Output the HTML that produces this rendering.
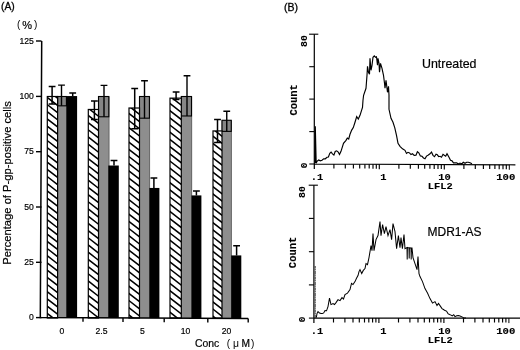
<!DOCTYPE html>
<html><head><meta charset="utf-8"><title>Figure</title>
<style>
html,body{margin:0;padding:0;background:#fff;}
body{width:520px;height:350px;overflow:hidden;}
svg{display:block;filter:grayscale(1);}
text{font-family:"Liberation Sans",sans-serif;fill:#000;}
text.b{stroke:#000;stroke-width:0.18px;}
text.b3{stroke:#000;stroke-width:0.3px;}
text.b2{stroke:#000;stroke-width:0.2px;}
text.m{font-family:"Liberation Mono",monospace;font-weight:bold;fill:#000;stroke:#000;stroke-width:0.12px;}
</style></head><body>
<svg width="520" height="350" viewBox="0 0 520 350">
<defs>
<clipPath id="c0"><rect x="47.3" y="96.5" width="10.300000000000004" height="221.5"/></clipPath>
<clipPath id="c1"><rect x="88.3" y="109.46" width="10.200000000000003" height="208.54000000000002"/></clipPath>
<clipPath id="c2"><rect x="129" y="108.01" width="10.5" height="209.99"/></clipPath>
<clipPath id="c3"><rect x="170" y="98.14" width="11.300000000000011" height="219.86"/></clipPath>
<clipPath id="c4"><rect x="213" y="130.93" width="9" height="187.07"/></clipPath>
</defs>
<rect width="520" height="350" fill="#fff"/>
<text x="1" y="9.7" font-size="10.3" class="b3">(A)</text>
<text x="17" y="28.3" font-size="10">(</text><text x="27.1" y="28.8" font-size="11" text-anchor="middle" class="b">%</text><text x="34" y="28.3" font-size="10">)</text>
<text transform="translate(10.9,182.9) rotate(-90) scale(1.057,1)" text-anchor="middle" font-size="10.6" class="b2">Percentage of P-gp-positive cells</text>
<rect x="57.1" y="96.5" width="9.800000000000004" height="221.5" fill="#8e8e8e"/>
<path d="M66.60000000000001,96.5V318.0" stroke="#555" stroke-width="0.7"/>
<rect x="57.6" y="96.5" width="8.800000000000004" height="9.319999999999993" fill="#868686" stroke="#000" stroke-width="1.1"/>
<path d="M61.5,85.09V105.82M58.1,85.09H64.9" stroke="#000" stroke-width="1.4" fill="none"/>
<rect x="47.3" y="96.5" width="10.300000000000004" height="221.5" fill="#fff"/>
<path d="M46.3,89.42L58.6,99.01M46.3,96.62L58.6,106.21M46.3,103.82L58.6,113.41M46.3,111.02L58.6,120.61M46.3,118.22L58.6,127.81M46.3,125.42L58.6,135.01M46.3,132.62L58.6,142.21M46.3,139.82L58.6,149.41M46.3,147.02L58.6,156.61M46.3,154.22L58.6,163.81M46.3,161.42L58.6,171.01M46.3,168.62L58.6,178.21M46.3,175.82L58.6,185.41M46.3,183.02L58.6,192.61M46.3,190.22L58.6,199.81M46.3,197.42L58.6,207.01M46.3,204.62L58.6,214.21M46.3,211.82L58.6,221.41M46.3,219.02L58.6,228.61M46.3,226.22L58.6,235.81M46.3,233.42L58.6,243.01M46.3,240.62L58.6,250.21M46.3,247.82L58.6,257.41M46.3,255.02L58.6,264.61M46.3,262.22L58.6,271.81M46.3,269.42L58.6,279.01M46.3,276.62L58.6,286.21M46.3,283.82L58.6,293.41M46.3,291.02L58.6,300.61M46.3,298.22L58.6,307.81M46.3,305.42L58.6,315.01M46.3,312.62L58.6,322.21" stroke="#000" stroke-width="1.55" fill="none" clip-path="url(#c0)"/>
<rect x="47.3" y="96.5" width="10.300000000000004" height="221.5" fill="none" stroke="#000" stroke-width="1.2"/>
<path d="M52.1,86.58V104.12M48.7,86.58H55.5M48.7,104.12H55.5" stroke="#000" stroke-width="1.5" fill="none"/>
<rect x="66.4" y="96.05" width="10.699999999999989" height="221.95" fill="#000"/>
<path d="M72.7,92.96V96.05M69.3,92.96H76.10000000000001" stroke="#000" stroke-width="1.5" fill="none"/>
<rect x="98.0" y="96.5" width="11.299999999999997" height="221.5" fill="#8e8e8e"/>
<path d="M109.0,96.5V318.0" stroke="#555" stroke-width="0.7"/>
<rect x="98.5" y="96.5" width="10.299999999999997" height="20.28" fill="#868686" stroke="#000" stroke-width="1.1"/>
<path d="M104,85.39V116.78M100.6,85.39H107.4" stroke="#000" stroke-width="1.4" fill="none"/>
<rect x="88.3" y="109.46" width="10.200000000000003" height="208.54000000000002" fill="#fff"/>
<path d="M87.3,100.28L99.5,109.80M87.3,107.48L99.5,117.00M87.3,114.68L99.5,124.20M87.3,121.88L99.5,131.40M87.3,129.08L99.5,138.60M87.3,136.28L99.5,145.80M87.3,143.48L99.5,153.00M87.3,150.68L99.5,160.20M87.3,157.88L99.5,167.40M87.3,165.08L99.5,174.60M87.3,172.28L99.5,181.80M87.3,179.48L99.5,189.00M87.3,186.68L99.5,196.20M87.3,193.88L99.5,203.40M87.3,201.08L99.5,210.60M87.3,208.28L99.5,217.80M87.3,215.48L99.5,225.00M87.3,222.68L99.5,232.20M87.3,229.88L99.5,239.40M87.3,237.08L99.5,246.60M87.3,244.28L99.5,253.80M87.3,251.48L99.5,261.00M87.3,258.68L99.5,268.20M87.3,265.88L99.5,275.40M87.3,273.08L99.5,282.60M87.3,280.28L99.5,289.80M87.3,287.48L99.5,297.00M87.3,294.68L99.5,304.20M87.3,301.88L99.5,311.40M87.3,309.08L99.5,318.60M87.3,316.28L99.5,325.80" stroke="#000" stroke-width="1.55" fill="none" clip-path="url(#c1)"/>
<rect x="88.3" y="109.46" width="10.200000000000003" height="208.54000000000002" fill="none" stroke="#000" stroke-width="1.2"/>
<path d="M94.4,101.03V119.42M91.0,101.03H97.80000000000001M91.0,119.42H97.80000000000001" stroke="#000" stroke-width="1.5" fill="none"/>
<rect x="108.3" y="165.52" width="10.5" height="152.48" fill="#000"/>
<path d="M114,160.53V165.52M110.6,160.53H117.4" stroke="#000" stroke-width="1.5" fill="none"/>
<rect x="139.0" y="96.5" width="10.900000000000006" height="221.5" fill="#8e8e8e"/>
<path d="M149.6,96.5V318.0" stroke="#555" stroke-width="0.7"/>
<rect x="139.5" y="96.5" width="9.900000000000006" height="21.680000000000007" fill="#868686" stroke="#000" stroke-width="1.1"/>
<path d="M144.5,80.7V118.18M141.1,80.7H147.9" stroke="#000" stroke-width="1.4" fill="none"/>
<rect x="129" y="108.01" width="10.5" height="209.99" fill="#fff"/>
<path d="M128,98.23L140.5,107.98M128,105.43L140.5,115.18M128,112.63L140.5,122.38M128,119.83L140.5,129.58M128,127.03L140.5,136.78M128,134.23L140.5,143.98M128,141.43L140.5,151.18M128,148.63L140.5,158.38M128,155.83L140.5,165.58M128,163.03L140.5,172.78M128,170.23L140.5,179.98M128,177.43L140.5,187.18M128,184.63L140.5,194.38M128,191.83L140.5,201.58M128,199.03L140.5,208.78M128,206.23L140.5,215.98M128,213.43L140.5,223.18M128,220.63L140.5,230.38M128,227.83L140.5,237.58M128,235.03L140.5,244.78M128,242.23L140.5,251.98M128,249.43L140.5,259.18M128,256.63L140.5,266.38M128,263.83L140.5,273.58M128,271.03L140.5,280.78M128,278.23L140.5,287.98M128,285.43L140.5,295.18M128,292.63L140.5,302.38M128,299.83L140.5,309.58M128,307.03L140.5,316.78M128,314.23L140.5,323.98" stroke="#000" stroke-width="1.55" fill="none" clip-path="url(#c2)"/>
<rect x="129" y="108.01" width="10.5" height="209.99" fill="none" stroke="#000" stroke-width="1.2"/>
<path d="M134.7,88.38V128.64M131.29999999999998,88.38H138.1M131.29999999999998,128.64H138.1" stroke="#000" stroke-width="1.5" fill="none"/>
<rect x="149.4" y="187.94" width="10.0" height="130.06" fill="#000"/>
<path d="M153.9,178.07V187.94M150.5,178.07H157.3" stroke="#000" stroke-width="1.5" fill="none"/>
<rect x="180.8" y="96.5" width="11.199999999999989" height="221.5" fill="#8e8e8e"/>
<path d="M191.7,96.5V318.0" stroke="#555" stroke-width="0.7"/>
<rect x="181.3" y="96.5" width="10.199999999999989" height="19.480000000000004" fill="#868686" stroke="#000" stroke-width="1.1"/>
<path d="M187,75.82V115.98M183.6,75.82H190.4" stroke="#000" stroke-width="1.4" fill="none"/>
<rect x="170" y="98.14" width="11.300000000000011" height="219.86" fill="#fff"/>
<path d="M169,88.36L182.3,98.73M169,95.56L182.3,105.93M169,102.76L182.3,113.13M169,109.96L182.3,120.33M169,117.16L182.3,127.53M169,124.36L182.3,134.73M169,131.56L182.3,141.93M169,138.76L182.3,149.13M169,145.96L182.3,156.33M169,153.16L182.3,163.53M169,160.36L182.3,170.73M169,167.56L182.3,177.93M169,174.76L182.3,185.13M169,181.96L182.3,192.33M169,189.16L182.3,199.53M169,196.36L182.3,206.73M169,203.56L182.3,213.93M169,210.76L182.3,221.13M169,217.96L182.3,228.33M169,225.16L182.3,235.53M169,232.36L182.3,242.73M169,239.56L182.3,249.93M169,246.76L182.3,257.13M169,253.96L182.3,264.33M169,261.16L182.3,271.53M169,268.36L182.3,278.73M169,275.56L182.3,285.93M169,282.76L182.3,293.13M169,289.96L182.3,300.33M169,297.16L182.3,307.53M169,304.36L182.3,314.73M169,311.56L182.3,321.93M169,318.76L182.3,329.13" stroke="#000" stroke-width="1.55" fill="none" clip-path="url(#c3)"/>
<rect x="170" y="98.14" width="11.300000000000011" height="219.86" fill="none" stroke="#000" stroke-width="1.2"/>
<path d="M176.1,91.97V99.49M172.7,91.97H179.5M172.7,99.49H179.5" stroke="#000" stroke-width="1.5" fill="none"/>
<rect x="191.5" y="195.41" width="9.900000000000006" height="122.59" fill="#000"/>
<path d="M196.4,190.93V195.41M193.0,190.93H199.8" stroke="#000" stroke-width="1.5" fill="none"/>
<rect x="221.5" y="120.27" width="10.25" height="197.73000000000002" fill="#8e8e8e"/>
<path d="M231.45,120.27V318.0" stroke="#555" stroke-width="0.7"/>
<rect x="222" y="120.27" width="9.25" height="11.11" fill="#868686" stroke="#000" stroke-width="1.1"/>
<path d="M226.75,111.2V131.38M223.35,111.2H230.15" stroke="#000" stroke-width="1.4" fill="none"/>
<rect x="213" y="130.93" width="9" height="187.07" fill="#fff"/>
<path d="M212,121.15L223,129.73M212,128.35L223,136.93M212,135.55L223,144.13M212,142.75L223,151.33M212,149.95L223,158.53M212,157.15L223,165.73M212,164.35L223,172.93M212,171.55L223,180.13M212,178.75L223,187.33M212,185.95L223,194.53M212,193.15L223,201.73M212,200.35L223,208.93M212,207.55L223,216.13M212,214.75L223,223.33M212,221.95L223,230.53M212,229.15L223,237.73M212,236.35L223,244.93M212,243.55L223,252.13M212,250.75L223,259.33M212,257.95L223,266.53M212,265.15L223,273.73M212,272.35L223,280.93M212,279.55L223,288.13M212,286.75L223,295.33M212,293.95L223,302.53M212,301.15L223,309.73M212,308.35L223,316.93M212,315.55L223,324.13" stroke="#000" stroke-width="1.55" fill="none" clip-path="url(#c4)"/>
<rect x="213" y="130.93" width="9" height="187.07" fill="none" stroke="#000" stroke-width="1.2"/>
<path d="M217.5,119.42V142.59M214.1,119.42H220.9M214.1,142.59H220.9" stroke="#000" stroke-width="1.5" fill="none"/>
<rect x="231.2" y="255.41" width="10.100000000000023" height="62.59" fill="#000"/>
<path d="M236.6,245.84V255.41M233.2,245.84H240.0" stroke="#000" stroke-width="1.5" fill="none"/>
<path d="M41.7,41L40.3,317.6L248.2,318.6" stroke="#000" stroke-width="1.5" fill="none" stroke-linejoin="miter"/>
<path d="M36,41H41.5" stroke="#000" stroke-width="1.4"/>
<text x="33.8" y="43.6" text-anchor="end" font-size="8.6" class="b">125</text>
<path d="M36,96.4H41.5" stroke="#000" stroke-width="1.4"/>
<text x="33.8" y="99.0" text-anchor="end" font-size="8.6" class="b">100</text>
<path d="M36,151.7H41.5" stroke="#000" stroke-width="1.4"/>
<text x="33.8" y="154.29999999999998" text-anchor="end" font-size="8.6" class="b">75</text>
<path d="M36,207H41.5" stroke="#000" stroke-width="1.4"/>
<text x="33.8" y="209.6" text-anchor="end" font-size="8.6" class="b">50</text>
<path d="M36,262.3H41.5" stroke="#000" stroke-width="1.4"/>
<text x="33.8" y="264.90000000000003" text-anchor="end" font-size="8.6" class="b">25</text>
<path d="M36,317.6H41.5" stroke="#000" stroke-width="1.4"/>
<text x="33.8" y="320.20000000000005" text-anchor="end" font-size="8.6" class="b">0</text>
<path d="M83,317.8v4" stroke="#000" stroke-width="1.4"/>
<path d="M123,318.0v4" stroke="#000" stroke-width="1.4"/>
<path d="M164.2,318.2v4" stroke="#000" stroke-width="1.4"/>
<path d="M207.8,318.4v4" stroke="#000" stroke-width="1.4"/>
<path d="M248.2,318.6v4" stroke="#000" stroke-width="1.4"/>
<text x="62" y="334.1" text-anchor="middle" font-size="8.6" class="b">0</text>
<text x="101.5" y="334.1" text-anchor="middle" font-size="8.6" class="b">2.5</text>
<text x="142.5" y="334.1" text-anchor="middle" font-size="8.6" class="b">5</text>
<text x="185.5" y="334.1" text-anchor="middle" font-size="8.6" class="b">10</text>
<text x="226.6" y="334.1" text-anchor="middle" font-size="8.6" class="b">20</text>
<text x="195" y="347" font-size="10.4" class="b2">Conc</text>
<text x="226.8" y="346.5" font-size="10">(</text><text x="233" y="347" font-size="10.4">&#956;</text><text x="241.6" y="347" font-size="10.2" class="b2">M</text><text x="251" y="346.5" font-size="10">)</text>
<text x="284" y="10.5" font-size="10.5" class="b3">(B)</text>
<path d="M314.3,34.2V169M314.3,164L515.4,164.80" stroke="#000" stroke-width="1.2" fill="none"/>
<path d="M309.1,34.2H318.3" stroke="#000" stroke-width="1.1"/>
<path d="M309.3,66.7H314.3" stroke="#000" stroke-width="1.1"/>
<path d="M309.3,99.1H314.3" stroke="#000" stroke-width="1.1"/>
<path d="M309.3,131.6H314.3" stroke="#000" stroke-width="1.1"/>
<path d="M309.3,164.0H314.3" stroke="#000" stroke-width="1.1"/>
<path d="M333.9,164.08v4.4" stroke="#000" stroke-width="1.15"/>
<path d="M345.3,164.12v4.4" stroke="#000" stroke-width="1.15"/>
<path d="M353.4,164.16v4.4" stroke="#000" stroke-width="1.15"/>
<path d="M359.7,164.18v4.4" stroke="#000" stroke-width="1.15"/>
<path d="M364.9,164.20v4.4" stroke="#000" stroke-width="1.15"/>
<path d="M369.2,164.22v4.4" stroke="#000" stroke-width="1.15"/>
<path d="M373.0,164.23v4.4" stroke="#000" stroke-width="1.15"/>
<path d="M376.3,164.25v4.4" stroke="#000" stroke-width="1.15"/>
<path d="M379.3,164.26v5" stroke="#000" stroke-width="1.15"/>
<path d="M398.9,164.34v4.4" stroke="#000" stroke-width="1.15"/>
<path d="M410.3,164.38v4.4" stroke="#000" stroke-width="1.15"/>
<path d="M418.4,164.42v4.4" stroke="#000" stroke-width="1.15"/>
<path d="M424.7,164.44v4.4" stroke="#000" stroke-width="1.15"/>
<path d="M429.9,164.46v4.4" stroke="#000" stroke-width="1.15"/>
<path d="M434.2,164.48v4.4" stroke="#000" stroke-width="1.15"/>
<path d="M438.0,164.49v4.4" stroke="#000" stroke-width="1.15"/>
<path d="M441.3,164.51v4.4" stroke="#000" stroke-width="1.15"/>
<path d="M444.3,164.52v5" stroke="#000" stroke-width="1.15"/>
<path d="M463.9,164.60v4.4" stroke="#000" stroke-width="1.15"/>
<path d="M475.3,164.64v4.4" stroke="#000" stroke-width="1.15"/>
<path d="M483.4,164.68v4.4" stroke="#000" stroke-width="1.15"/>
<path d="M489.7,164.70v4.4" stroke="#000" stroke-width="1.15"/>
<path d="M494.9,164.72v4.4" stroke="#000" stroke-width="1.15"/>
<path d="M499.2,164.74v4.4" stroke="#000" stroke-width="1.15"/>
<path d="M503.0,164.75v4.4" stroke="#000" stroke-width="1.15"/>
<path d="M506.3,164.77v4.4" stroke="#000" stroke-width="1.15"/>
<path d="M509.3,164.78v5" stroke="#000" stroke-width="1"/>
<text transform="translate(310.7,179.58) scale(1.095,1)" class="m" font-size="9.5">.1</text>
<text transform="translate(380.2,179.86) scale(1.095,1)" class="m" font-size="9.5">1</text>
<text transform="translate(438.2,180.09) scale(1.095,1)" class="m" font-size="9.5">10</text>
<text transform="translate(496.2,180.33) scale(1.12,1)" class="m" font-size="9.5">100</text>
<text transform="translate(427.8,189.30) scale(1.18,1)" class="m" font-size="8.8">LFL2</text>
<text transform="translate(306.8,47.0) rotate(-90)" class="m" font-size="9.8" letter-spacing="0.1">80</text>
<text transform="translate(306.8,168.2) rotate(-90)" class="m" font-size="9.4">0</text>
<text transform="translate(297.3,115.6) rotate(-90)" class="m" font-size="10.5">Count</text>
<path d="M315.0,163.3 L315.3,126.3 L316.2,163.3 L317.0,161.3 L318.7,160.0 L320.3,160.8 L322.0,160.3 L323.7,158.8 L325.3,158.8 L327.0,157.3 L328.4,157.0 L329.8,153.4 L331.1,152.1 L332.5,153.8 L333.9,155.1 L335.2,151.5 L336.6,150.8 L338.0,151.8 L339.5,154.4 L341.0,151.3 L343.5,143.3 L346.0,140.3 L347.3,138.1 L348.7,139.0 L350.0,134.3 L351.7,130.1 L353.3,127.6 L355.0,122.3 L356.7,116.6 L358.3,119.0 L360.0,115.3 L362.5,107.3 L363.0,100.3 L363.6,95.3 L366.0,88.3 L367.0,75.3 L367.5,66.3 L368.5,72.3 L369.5,74.3 L370.0,58.3 L371.0,70.3 L372.0,65.3 L373.0,57.3 L374.3,55.8 L375.5,57.3 L376.5,56.8 L377.5,65.3 L378.0,58.3 L379.0,63.3 L379.5,72.3 L380.5,63.3 L382.0,68.3 L383.5,75.3 L384.5,83.3 L385.0,88.3 L386.0,80.3 L387.0,88.3 L387.5,92.3 L388.5,86.3 L389.0,95.3 L389.0,109.3 L391.0,118.3 L393.0,122.3 L394.8,127.8 L396.5,135.3 L398.0,143.3 L400.0,146.3 L402.5,148.8 L405.0,150.3 L406.5,153.4 L408.0,152.3 L409.5,152.9 L411.0,154.6 L412.5,153.8 L414.2,155.4 L416.0,155.3 L417.4,151.7 L418.8,152.8 L420.4,155.9 L422.0,156.3 L423.5,158.0 L425.0,158.8 L426.5,156.1 L428.0,155.3 L430.0,153.8 L431.5,152.1 L433.0,155.3 L434.5,156.7 L436.0,154.3 L437.3,154.8 L438.7,156.7 L440.0,156.3 L441.5,157.2 L443.0,154.3 L444.3,155.3 L445.7,156.2 L447.0,153.8 L449.0,157.3 L450.5,160.3 L452.0,160.8 L453.5,162.9 L455.0,162.8 L456.7,162.8 L458.3,164.0 L460.0,163.1 L461.7,164.0 L463.3,162.3 L465.0,163.3 L466.7,162.2 L468.3,162.2 L470.0,162.8 L472.0,163.8" stroke="#000" stroke-width="1.15" fill="none" stroke-linejoin="miter"/>
<text x="422" y="68.4" font-size="12.4" class="b2">Untreated</text>
<path d="M313.9,185.2V323.1M313.9,318.1L520,318.10" stroke="#000" stroke-width="1.2" fill="none"/>
<path d="M308.7,185.2H317.9" stroke="#000" stroke-width="1.1"/>
<path d="M308.9,218.4H313.9" stroke="#000" stroke-width="1.1"/>
<path d="M308.9,251.7H313.9" stroke="#000" stroke-width="1.1"/>
<path d="M308.9,284.9H313.9" stroke="#000" stroke-width="1.1"/>
<path d="M308.9,318.1H313.9" stroke="#000" stroke-width="1.1"/>
<path d="M333.5,318.10v4.4" stroke="#000" stroke-width="1.15"/>
<path d="M344.9,318.10v4.4" stroke="#000" stroke-width="1.15"/>
<path d="M353.0,318.10v4.4" stroke="#000" stroke-width="1.15"/>
<path d="M359.3,318.10v4.4" stroke="#000" stroke-width="1.15"/>
<path d="M364.5,318.10v4.4" stroke="#000" stroke-width="1.15"/>
<path d="M368.8,318.10v4.4" stroke="#000" stroke-width="1.15"/>
<path d="M372.6,318.10v4.4" stroke="#000" stroke-width="1.15"/>
<path d="M375.9,318.10v4.4" stroke="#000" stroke-width="1.15"/>
<path d="M378.9,318.10v5" stroke="#000" stroke-width="1.15"/>
<path d="M398.5,318.10v4.4" stroke="#000" stroke-width="1.15"/>
<path d="M409.9,318.10v4.4" stroke="#000" stroke-width="1.15"/>
<path d="M418.0,318.10v4.4" stroke="#000" stroke-width="1.15"/>
<path d="M424.3,318.10v4.4" stroke="#000" stroke-width="1.15"/>
<path d="M429.5,318.10v4.4" stroke="#000" stroke-width="1.15"/>
<path d="M433.8,318.10v4.4" stroke="#000" stroke-width="1.15"/>
<path d="M437.6,318.10v4.4" stroke="#000" stroke-width="1.15"/>
<path d="M440.9,318.10v4.4" stroke="#000" stroke-width="1.15"/>
<path d="M443.9,318.10v5" stroke="#000" stroke-width="1.15"/>
<path d="M463.5,318.10v4.4" stroke="#000" stroke-width="1.15"/>
<path d="M474.9,318.10v4.4" stroke="#000" stroke-width="1.15"/>
<path d="M483.0,318.10v4.4" stroke="#000" stroke-width="1.15"/>
<path d="M489.3,318.10v4.4" stroke="#000" stroke-width="1.15"/>
<path d="M494.5,318.10v4.4" stroke="#000" stroke-width="1.15"/>
<path d="M498.8,318.10v4.4" stroke="#000" stroke-width="1.15"/>
<path d="M502.6,318.10v4.4" stroke="#000" stroke-width="1.15"/>
<path d="M505.9,318.10v4.4" stroke="#000" stroke-width="1.15"/>
<path d="M508.9,318.10v5" stroke="#000" stroke-width="1"/>
<text transform="translate(310.7,333.70) scale(1.095,1)" class="m" font-size="9.5">.1</text>
<text transform="translate(380.2,333.70) scale(1.095,1)" class="m" font-size="9.5">1</text>
<text transform="translate(438.2,333.70) scale(1.095,1)" class="m" font-size="9.5">10</text>
<text transform="translate(496.2,333.70) scale(1.12,1)" class="m" font-size="9.5">100</text>
<text transform="translate(427.8,342.90) scale(1.18,1)" class="m" font-size="8.8">LFL2</text>
<text transform="translate(305.4,198.0) rotate(-90)" class="m" font-size="9.8" letter-spacing="0.1">80</text>
<text transform="translate(305.4,322.3) rotate(-90)" class="m" font-size="9.4">0</text>
<text transform="translate(295.9,268.15) rotate(-90)" class="m" font-size="10.5">Count</text>
<path d="M315.2,318V266" stroke="#222" stroke-width="0.9" stroke-dasharray="3 0.6 1.5 0.4"/>
<path d="M316.3,317.6 L317.0,313.6 L318.0,311.6 L319.5,313.1 L321.0,313.6 L322.3,313.6 L323.7,312.9 L325.0,310.6 L326.5,310.8 L328.0,306.6 L329.5,298.1 L331.0,304.6 L333.0,303.6 L334.5,304.5 L336.0,302.6 L338.0,299.6 L340.0,300.6 L342.0,297.6 L343.5,299.0 L345.0,294.6 L347.5,293.1 L350.0,289.6 L351.5,283.4 L353.0,284.6 L355.0,281.6 L356.5,278.3 L358.0,275.6 L359.0,271.6 L360.0,269.6 L361.7,273.5 L363.3,270.4 L365.0,268.6 L366.0,263.6 L367.5,264.7 L369.0,257.6 L371.0,245.6 L372.0,250.6 L373.0,233.6 L374.0,250.6 L376.0,239.6 L378.0,235.6 L380.0,221.6 L381.0,235.6 L382.6,224.6 L384.4,233.6 L386.0,226.6 L388.0,235.6 L390.0,229.6 L391.6,239.6 L393.0,223.6 L395.0,231.6 L396.6,248.6 L398.4,235.6 L400.0,247.6 L401.0,237.6 L402.4,248.6 L404.0,234.6 L405.0,248.6 L407.0,247.6 L407.2,259.6 L407.4,247.6 L409.0,247.9 L409.2,258.6 L409.4,247.9 L411.0,248.0 L411.2,259.6 L411.4,248.0 L412.0,248.0 L413.0,257.6 L415.0,263.6 L417.0,269.6 L418.0,256.6 L419.0,273.6 L420.0,276.6 L422.5,281.6 L425.0,288.6 L427.5,293.1 L430.0,298.6 L432.5,303.1 L435.0,301.6 L437.0,305.6 L438.5,303.5 L440.0,305.6 L442.0,308.6 L443.5,309.5 L445.0,310.6 L446.5,311.1 L448.0,313.6 L449.5,314.5 L451.0,315.1 L452.3,315.8 L453.7,314.7 L455.0,316.6 L456.7,315.7 L458.3,315.6 L460.0,316.1 L462.5,317.1 L464.2,318.1 L466.0,318.1" stroke="#000" stroke-width="1.02" fill="none" stroke-linejoin="miter"/>
<text x="427.5" y="236.2" font-size="12" class="b2">MDR1-AS</text>
</svg>
</body></html>
